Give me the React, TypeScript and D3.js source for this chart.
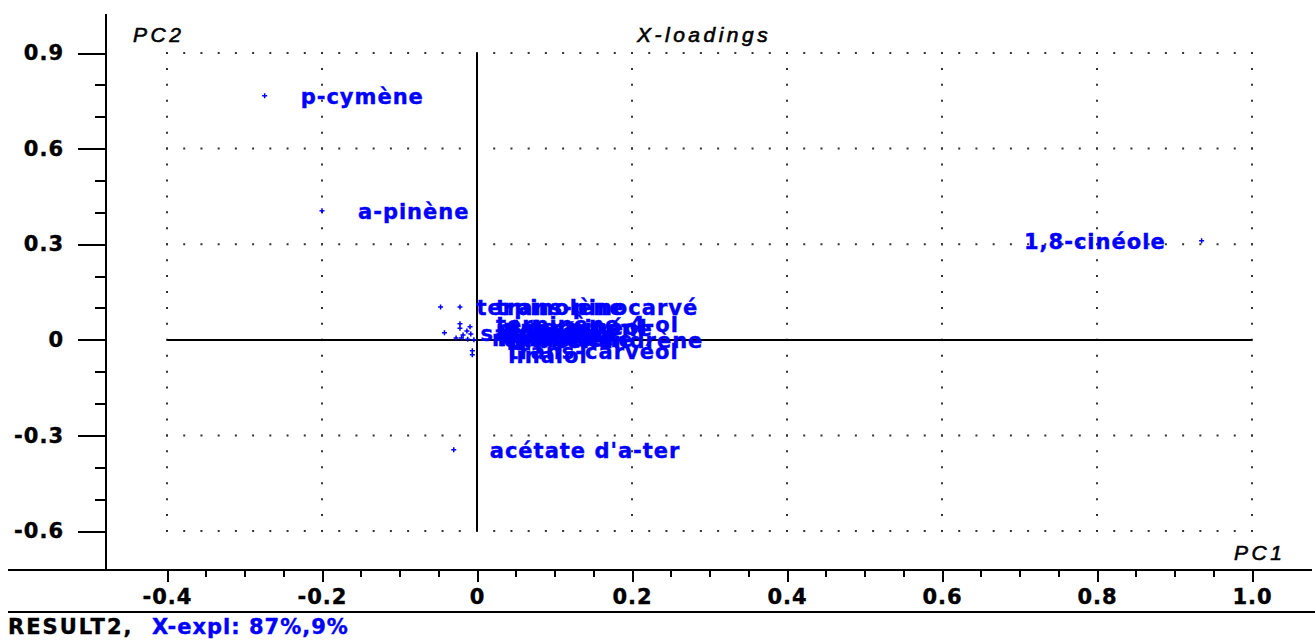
import React, { useEffect, useRef } from "react";
import * as d3 from "d3";

const WIDTH = 1315;
const HEIGHT = 641;

//Loadings (labels are cut at 15 chars like the original)
const names = [
	"p-cymène",
	"a-pinène",
	"1,8-cinéole",
	"acétate d'a-ter",
	"terpinolène",
	"trans-pinocarvé",
	"terpinène-4-ol",
	"pinocarvone",
	"a-terpinéol",
	"sabinène",
	"bornéol",
	"b-pinène",
	"myrcène",
	"limonène",
	"camphène",
	"camphre",
	"a-phellandrène",
	"trans-carvéol",
	"linalol"
];
const pc1 = [
	-0.274, -0.2, 0.935, -0.03, -0.047, -0.022, -0.022, -0.022, -0.009, -0.042,
	-0.013, -0.018, -0.027, -0.02, -0.012, -0.008, -0.004, -0.006, -0.006
];
const pc2 = [
	0.766, 0.405, 0.311, -0.345, 0.103, 0.103, 0.05, 0.036, 0.041, 0.022, 0.028,
	0.015, 0.006, 0.006, 0.002, 0.018, 0.0, -0.034, -0.047
];

const xTicks = [-0.4, -0.2, 0, 0.2, 0.4, 0.6, 0.8, 1.0];
const xTickLabels = ["-0.4", "-0.2", "0", "0.2", "0.4", "0.6", "0.8", "1.0"];
const yTicks = [-0.6, -0.3, 0, 0.3, 0.6, 0.9];
const yTickLabels = ["-0.6", "-0.3", "0", "0.3", "0.6", "0.9"];

const BLUE = "#0000ff";
const FONT = "'DejaVu Sans', sans-serif";
const ITALIC = "'Liberation Sans', Arial, sans-serif";

export default function App() {
	const ref = useRef<SVGSVGElement>(null);

	useEffect(() => {
		const svg = d3.select(ref.current);
		svg.selectAll("*").remove();

		const x = d3.scaleLinear().domain([-0.4, 1.0]).range([167, 1252]);
		const y = d3.scaleLinear().domain([-0.6, 0.9]).range([531, 53]);

		const axisX = 106;
		const axisY = 570;

		const boldText = (sel: any, color: string) =>
			sel.attr("fill", color)
				.attr("stroke", color)
				.attr("stroke-width", 0.4)
				.attr("font-family", FONT)
				.attr("font-weight", "bold")
				.attr("font-size", 21)
				.attr("letter-spacing", 1);

		//Dotted grid
		const hStep = x(0.2 / 9) - x(0);
		const vStep = y(0) - y(0.05);
		const grid = svg.append("g").attr("stroke", "#333").attr("stroke-width", 2);
		grid.selectAll("line.h")
			.data(yTicks.filter(d => d !== 0))
			.join("line")
			.attr("x1", x(-0.4) - 1)
			.attr("x2", x(1.0) + 1)
			.attr("y1", d => y(d))
			.attr("y2", d => y(d))
			.attr("stroke-dasharray", `2 ${hStep - 2}`);
		grid.selectAll("line.v")
			.data(xTicks.filter(d => d !== 0))
			.join("line")
			.attr("x1", d => x(d))
			.attr("x2", d => x(d))
			.attr("y1", y(0.9) - 1)
			.attr("y2", y(-0.6) + 1)
			.attr("stroke-dasharray", `2 ${vStep - 2}`);

		//Solid zero lines
		svg.append("line")
			.attr("x1", x(-0.4)).attr("x2", x(1.0))
			.attr("y1", y(0)).attr("y2", y(0))
			.attr("stroke", "#000").attr("stroke-width", 2)
			.attr("shape-rendering", "crispEdges");
		svg.append("line")
			.attr("x1", x(0)).attr("x2", x(0))
			.attr("y1", y(0.9)).attr("y2", y(-0.6))
			.attr("stroke", "#000").attr("stroke-width", 2)
			.attr("shape-rendering", "crispEdges");

		//Axes
		const styleAxis = (g: any) => {
			g.select(".domain").remove();
			g.selectAll("line").attr("stroke", "#000").attr("stroke-width", 2)
				.attr("shape-rendering", "crispEdges");
			boldText(g.selectAll("text"), "#000");
		};

		svg.append("g")
			.attr("transform", `translate(0,${axisY})`)
			.call(d3.axisBottom(x).tickValues(d3.range(-8, 21).map(i => i * 0.05)).tickSize(7).tickFormat(() => ""))
			.call(styleAxis);
		svg.append("g")
			.attr("transform", `translate(0,${axisY})`)
			.call(d3.axisBottom(x).tickValues(xTicks).tickSize(12).tickPadding(7)
				.tickFormat((d, i) => xTickLabels[i]))
			.call(styleAxis);

		svg.append("g")
			.attr("transform", `translate(${axisX},0)`)
			.call(d3.axisLeft(y).tickValues(d3.range(-6, 10).map(i => i * 0.1)).tickSize(11).tickFormat(() => ""))
			.call(styleAxis);
		svg.append("g")
			.attr("transform", `translate(${axisX},0)`)
			.call(d3.axisLeft(y).tickValues(yTicks).tickSize(28).tickPadding(14)
				.tickFormat((d, i) => yTickLabels[i]))
			.call(styleAxis);

		svg.append("line")
			.attr("x1", axisX).attr("x2", axisX).attr("y1", 14).attr("y2", axisY)
			.attr("stroke", "#000").attr("stroke-width", 2).attr("shape-rendering", "crispEdges");
		svg.append("line")
			.attr("x1", 8).attr("x2", 1312).attr("y1", axisY).attr("y2", axisY)
			.attr("stroke", "#000").attr("stroke-width", 2).attr("shape-rendering", "crispEdges");
		svg.append("line")
			.attr("x1", 8).attr("x2", WIDTH).attr("y1", 612).attr("y2", 612)
			.attr("stroke", "#000").attr("stroke-width", 2).attr("shape-rendering", "crispEdges");

		//Points and labels
		const pts = names.map((n, i) => ({ name: n, x: pc1[i], y: pc2[i] }));
		svg.append("g")
			.selectAll("path")
			.data(pts)
			.join("path")
			.attr("transform", d => `translate(${x(d.x)},${y(d.y)})`)
			.attr("d", "M-2.5,0H2.5M0,-2.5V2.5")
			.attr("stroke", BLUE)
			.attr("stroke-width", 1.5);
		svg.append("g")
			.selectAll("text")
			.data(pts)
			.join("text")
			.attr("x", d => (d.x > 0.8 ? x(d.x) - 36 : x(d.x) + 36))
			.attr("y", d => y(d.y))
			.attr("dy", "0.38em")
			.attr("text-anchor", d => (d.x > 0.8 ? "end" : "start"))
			.call(boldText, BLUE)
			.text(d => d.name);

		//Titles
		const italic = (tx: string, px: number, py: number) =>
			svg.append("text")
				.attr("x", px).attr("y", py)
				.attr("font-family", ITALIC)
				.attr("font-style", "italic")
				.attr("font-size", 21)
				.attr("letter-spacing", 3.5)
				.attr("fill", "#000")
				.attr("stroke", "#000")
				.attr("stroke-width", 0.6)
				.text(tx);
		italic("PC2", 133, 42);
		italic("X-loadings", 637, 42);
		italic("PC1", 1234, 560);

		svg.append("text")
			.attr("x", 8).attr("y", 634)
			.call(boldText, "#000")
			.attr("letter-spacing", 2)
			.text("RESULT2,");
		svg.append("text")
			.attr("x", 152).attr("y", 634)
			.call(boldText, BLUE)
			.text("X-expl: 87%,9%");
	}, []);

	return (
		<svg
			ref={ref}
			width={WIDTH}
			height={HEIGHT}
			style={{ position: "absolute", left: 0, top: 0, background: "#fff" }}
		/>
	);
}
